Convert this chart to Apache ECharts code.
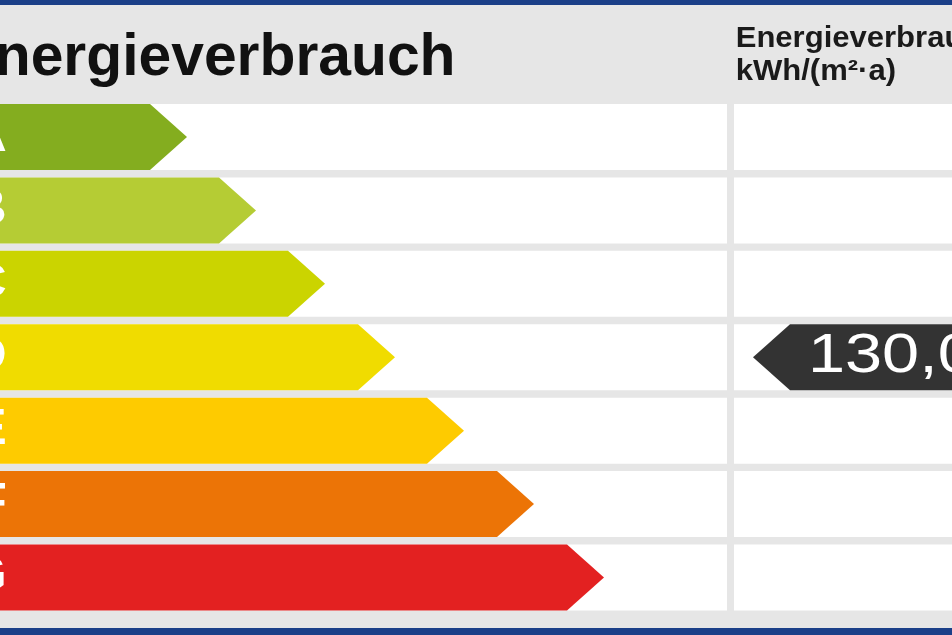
<!DOCTYPE html>
<html>
<head>
<meta charset="utf-8">
<script src="https://cdn.jsdelivr.net/npm/echarts@6/dist/echarts.min.js"></script>
<style>html,body{margin:0;padding:0;background:#e6e6e6;}#c{width:952px;height:635px;}</style>
</head>
<body>
<div id="c"></div>
<script>
// ---- data ----
const classes = ['A', 'B', 'C', 'D', 'E', 'F', 'G'];
const classEnds = [187, 256, 325, 395, 464, 534, 604]; // arrow tip on the x scale (0..952)
const classColors = ['#84ad1f', '#b5cc34', '#cbd400', '#f0dc00', '#fecb00', '#ec7406', '#e32121'];
const titleText = 'Energieverbrauch';
const columnTitle = ['Energieverbrauch', 'kWh/(m²·a)'];
const valueClass = 'D';
const valueNumber = '130,0';

const chart = echarts.init(document.getElementById('c'), null, { renderer: 'canvas' });

const seriesData = classes.map((c, i) => ({ value: [classEnds[i], i], itemStyle: { color: classColors[i] } }));

const FONT = '"Liberation Sans", Arial, sans-serif';

chart.setOption({
  backgroundColor: '#e6e6e6',
  animation: false,
  grid: { left: 0, right: 0, top: 100.3, bottom: 20.8, containLabel: false },
  xAxis: { type: 'value', min: 0, max: 952, show: false },
  yAxis: { type: 'category', data: classes, inverse: true, show: false },
  graphic: [
    { type: 'rect', shape: { x: 0, y: 0, width: 952, height: 5 }, style: { fill: '#1b3f88' }, z: 100 },
    { type: 'rect', shape: { x: 0, y: 628, width: 952, height: 7 }, style: { fill: '#1b3f88' }, z: 100 },
    { type: 'text', x: -44.5, y: 28.5, scaleX: 0.98, style: { text: titleText, font: 'bold 60px ' + FONT, fill: '#111', verticalAlign: 'top' }, z: 50 },
    { type: 'text', x: 735.7, y: 24.2, scaleX: 1.07, style: { text: columnTitle[0], font: 'bold 29px ' + FONT, fill: '#1a1a1a', verticalAlign: 'top' }, z: 50 },
    { type: 'text', x: 735.7, y: 57.4, scaleX: 1.07, style: { text: columnTitle[1], font: 'bold 29px ' + FONT, fill: '#1a1a1a', verticalAlign: 'top' }, z: 50 }
  ],
  series: [
    {
      type: 'custom',
      data: seriesData,
      renderItem: function (params, api) {
        const idx = api.value(1);
        const tip = api.coord([api.value(0), idx]);
        const x0 = api.coord([0, idx])[0];
        const band = api.size([0, 1])[1];
        const h = band * 0.9;
        const cy = tip[1];
        const top = cy - h / 2, bot = cy + h / 2;
        const head = h * 0.56;
        const W = api.getWidth();
        return {
          type: 'group',
          children: [
            { type: 'rect', shape: { x: x0, y: top, width: 727 - x0, height: h }, style: { fill: '#ffffff' } },
            { type: 'rect', shape: { x: 734, y: top, width: W - 734, height: h }, style: { fill: '#ffffff' } },
            { type: 'polygon', shape: { points: [[x0 - 5, top], [tip[0] - head, top], [tip[0], cy], [tip[0] - head, bot], [x0 - 5, bot]] }, style: { fill: api.visual('color') } },
            { type: 'text', x: 7, y: cy, scaleX: 1.14, style: { text: classes[idx], font: 'bold 50px ' + FONT, fill: '#ffffff', align: 'right', verticalAlign: 'middle' } }
          ]
        };
      }
    },
    {
      type: 'custom',
      data: [[0, classes.indexOf(valueClass)]],
      z: 5,
      renderItem: function (params, api) {
        const idx = api.value(1);
        const c = api.coord([0, idx]);
        const band = api.size([0, 1])[1];
        const h = band * 0.9;
        const cy = c[1];
        const top = cy - h / 2, bot = cy + h / 2;
        const W = api.getWidth();
        return {
          type: 'group',
          children: [
            { type: 'polygon', shape: { points: [[753, cy], [790, top], [W + 5, top], [W + 5, bot], [790, bot]] }, style: { fill: '#333333' } },
            { type: 'text', x: 808, y: cy - 1, scaleX: 1.19, style: { text: valueNumber, font: '56px ' + FONT, fill: '#ffffff', verticalAlign: 'middle' } }
          ]
        };
      }
    }
  ]
});
</script>
</body>
</html>
